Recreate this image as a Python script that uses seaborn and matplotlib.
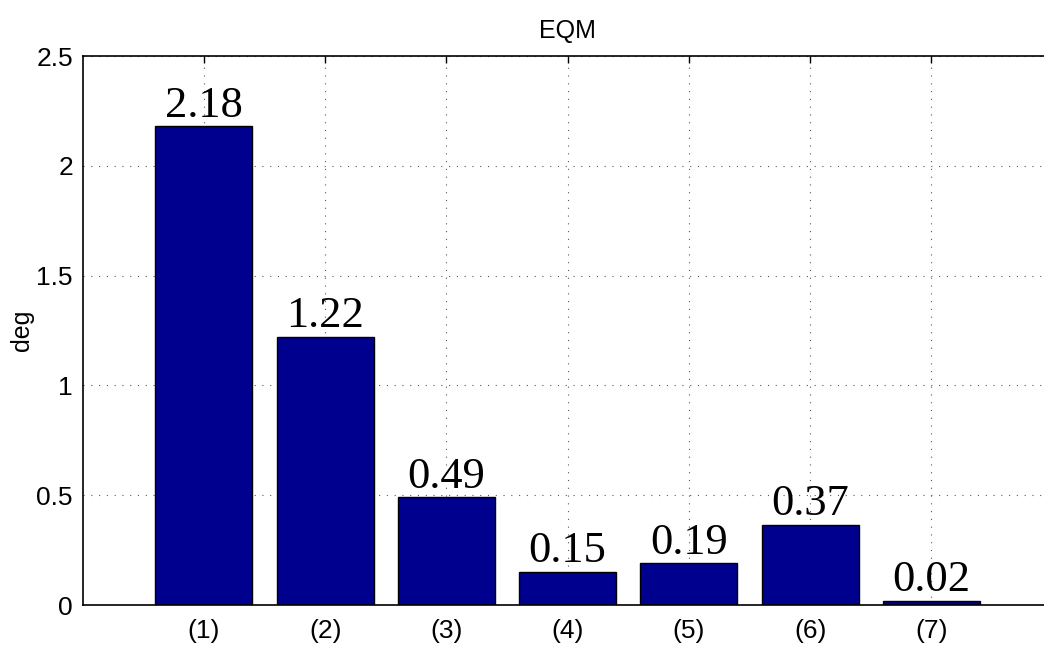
import matplotlib
matplotlib.use("Agg")
import matplotlib.pyplot as plt
import numpy as np
import pandas as pd
import seaborn as sns

categorias = ['(1)', '(2)', '(3)', '(4)', '(5)', '(6)', '(7)']
valores = [2.18, 1.22, 0.49, 0.15, 0.19, 0.365, 0.02]
rotulos = ['2.18', '1.22', '0.49', '0.15', '0.19', '0.37', '0.02']
yticks = [0, 0.5, 1, 1.5, 2, 2.5]
ytick_labels = ['0', '0.5', '1', '1.5', '2', '2.5']

df = pd.DataFrame({'caso': categorias, 'eqm': valores})

sns.set_style('white')
plt.rcParams['font.family'] = ['Liberation Sans', 'DejaVu Sans']
plt.rcParams['text.color'] = 'black'
plt.rcParams['axes.labelcolor'] = 'black'
plt.rcParams['xtick.color'] = 'black'
plt.rcParams['ytick.color'] = 'black'

fig = plt.figure(figsize=(10.44, 6.47), dpi=100)
# eixo vai alem da borda direita da figura (recortado como no original)
ax = fig.add_axes([0.0792, 0.0649, 0.929, 0.8485])

sns.barplot(data=df, x='caso', y='eqm', color='#00008F', saturation=1,
            width=0.8, edgecolor='black', linewidth=1, ax=ax)

for i, (v, txt) in enumerate(zip(valores, rotulos)):
    ax.annotate(txt, (i, v), xytext=(0, 7), textcoords='offset points',
                ha='center', va='baseline', fontsize=32, color='black',
                family='Liberation Serif')

ax.set_xlim(-1, 7)
ax.set_ylim(0, 2.5)
ax.set_yticks(yticks)
ax.set_yticklabels(ytick_labels)
ax.set_xlabel('')
ax.set_ylabel('deg', fontsize=18, labelpad=2)
ax.set_title('EQM', fontsize=18, pad=13)

ax.grid(True, linestyle=(0, (1, 6)), color='0.35', linewidth=0.8)
ax.set_axisbelow(True)
for s in ax.spines.values():
    s.set_visible(True)
    s.set_color('black')
    s.set_linewidth(1.2)
ax.tick_params(axis='both', direction='in', length=5, width=1,
               top=True, right=True, labelsize=19)
ax.tick_params(axis='x', pad=10)
ax.tick_params(axis='y', pad=7)

plt.savefig('out.png', dpi=100)
